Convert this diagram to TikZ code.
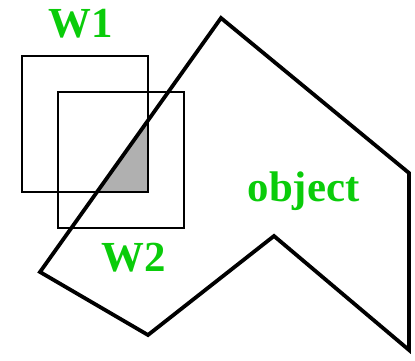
\documentclass[tikz,border=0pt]{standalone}
\usepackage{fontspec}
\setmainfont{Liberation Serif}
\definecolor{labelgreen}{RGB}{10,204,10}
\definecolor{overlapgray}{RGB}{176,176,176}

\begin{document}
\begin{tikzpicture}[x=1bp, y=-1bp,
    every node/.style={font=\fontsize{43}{43}\selectfont\bfseries, text=labelgreen, inner sep=0pt},
    window/.style={draw, line width=1.3bp},
    outline/.style={draw, line width=3.8bp}]
  \useasboundingbox (0,0) rectangle (415,361);
  % corners of the object
  \foreach \name/\pos in {top/{221,18}, rtop/{409,173}, rbot/{409,350},
                          notch/{274,236}, bot/{148,335}, left/{40,272}}
    \coordinate (\name) at (\pos);
  % part of the object seen in both windows
  \begin{scope}
    \clip (top) -- (rtop) -- (rbot) -- (notch) -- (bot) -- (left) -- cycle;
    \fill[overlapgray] (58,92) rectangle (148,192);
  \end{scope}
  \draw[window] (22,56) rectangle (148,192);
  \draw[window] (58,92) rectangle (184,228);
  \draw[outline] (top) -- (rtop) -- (rbot) -- (notch) -- (bot) -- (left) -- cycle;
  \node (w1) at (81,23.5) {W1};
  \node (w2) at (134,258) {W2};
  \node (obj) at (303.5,191) {object};
\end{tikzpicture}
\end{document}
